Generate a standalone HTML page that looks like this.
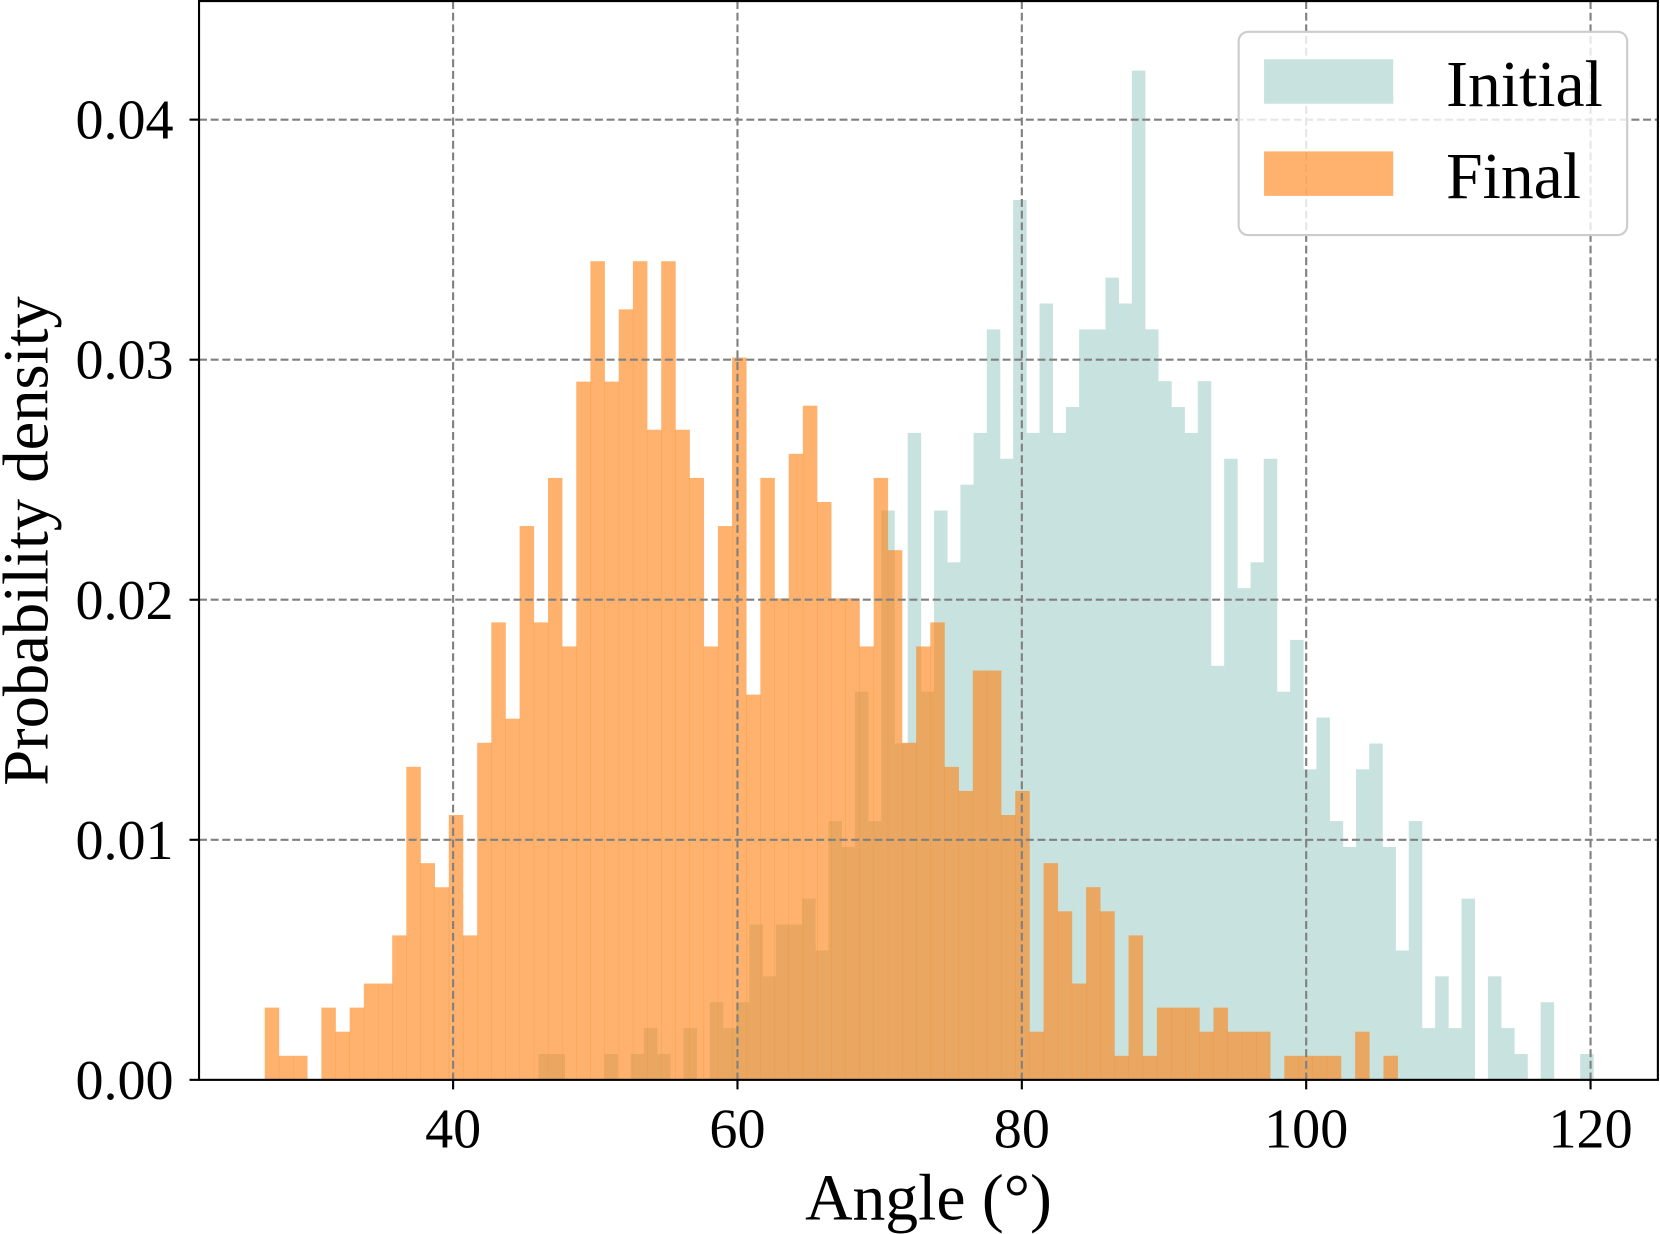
<!DOCTYPE html>
<html><head><meta charset="utf-8"><style>
html,body{margin:0;padding:0;background:#fff;}
svg{display:block;font-family:"Liberation Serif","DejaVu Serif",serif;}
</style></head><body>
<svg width="1660" height="1234" viewBox="0 0 1568 1165.6" xmlns="http://www.w3.org/2000/svg">
<g id="bars-initial"></g>
<g id="bars-final"></g>
<g id="grid"></g>
<g id="axes"></g>
<g>
  <rect x="1170" y="30" width="367" height="192" rx="9" fill="#fff" fill-opacity="0.8" stroke="#cccccc" stroke-width="2"/>
  <rect x="1194" y="56" width="122" height="42" fill="rgb(200,227,223)"/>
  <text x="1366" y="100" font-size="62">Initial</text>
  <rect x="1194" y="143" width="122" height="42" fill="rgb(253,131,21)" fill-opacity="0.62"/>
  <text x="1366" y="187" font-size="62">Final</text>
</g>
<text x="877" y="1152" font-size="62" text-anchor="middle">Angle (°)</text>
<text transform="translate(45,511) rotate(-90)" font-size="61" text-anchor="middle">Probability density</text>
</svg>
<script>
const finalCounts = [3,1,1,0,3,2,3,4,4,6,13,9,8,11,6,14,19,15,23,19,25,18,29,34,29,32,34,27,34,27,25,18,23,30,16,25,20,26,28,24,20,20,18,25,22,14,18,19,13,12,17,17,11,12,2,9,7,4,8,7,1,6,1,3,3,3,2,3,2,2,2,0,1,1,1,1,0,2,0,1];
const initialCounts = [1,1,0,0,0,1,0,1,2,1,0,2,0,3,2,3,6,4,6,6,7,5,10,9,15,10,22,13,25,15,22,20,23,25,29,24,34,25,30,25,26,29,29,31,30,39,29,27,26,25,27,16,24,19,20,24,15,17,12,14,10,9,12,13,9,5,10,2,4,2,7,0,4,2,1,0,3,0,0,1];
const finalStart = 26.75, finalBinWidth = 0.996, finalDensityPerCount = 0.001003;
const initialStart = 46.0, initialBinWidth = 0.9275, initialDensityPerCount = 0.001078;
const xTicks = [40,60,80,100,120];
const yTicks = [0,0.01,0.02,0.03,0.04];
const yTickLabels = ["0.00","0.01","0.02","0.03","0.04"];

const NS = "http://www.w3.org/2000/svg";
const L = 188, R = 1566, T = 1, B = 1020;
function xs(a){ return 428 + (a - 40) * 13.43; }
function ys(d){ return B - d * 22675; }
function mk(tag, attrs, parent){ const e = document.createElementNS(NS, tag); for (const k in attrs) e.setAttribute(k, attrs[k]); parent.appendChild(e); return e; }

function drawBars(counts, start, w, unit, gid, fill, op, nm){
  const g = document.getElementById(gid);
  counts.forEach((c, i) => {
    if (c <= 0) return;
    const x0 = xs(start + i * w), x1 = xs(start + (i + 1) * w);
    const y = ys(c * unit);
    const r = mk('rect', {x: x0, y: y, width: x1 - x0 + 0.3, height: B - y, fill: fill, 'fill-opacity': op}, g);
    
    
  });
}
drawBars(initialCounts, initialStart, initialBinWidth, initialDensityPerCount, 'bars-initial', 'rgb(200,227,223)', 1, 'initial-bar');
drawBars(finalCounts, finalStart, finalBinWidth, finalDensityPerCount, 'bars-final', 'rgb(253,131,21)', 0.62, 'final-bar');

const grid = document.getElementById('grid');
const axes = document.getElementById('axes');
xTicks.forEach(t => {
  const x = xs(t);
  const gl = mk('line', {x1: x, x2: x, y1: T, y2: B, stroke: '#808080', 'stroke-width': 2, 'stroke-dasharray': '7.5,3.5'}, grid);
  
  
  const tk = mk('line', {x1: x, x2: x, y1: B, y2: B + 9, stroke: '#000', 'stroke-width': 2}, axes);
  
  
  const tx = mk('text', {x: x, y: 1084, 'font-size': 53, 'text-anchor': 'middle'}, axes);
  tx.textContent = String(t);
  
  
});
yTicks.forEach((t, i) => {
  const y = ys(t);
  if (t > 0) {
    const gl = mk('line', {x1: L, x2: R, y1: y, y2: y, stroke: '#808080', 'stroke-width': 2, 'stroke-dasharray': '7.5,3.5'}, grid);
    
    
  }
  const tk = mk('line', {x1: L - 9, x2: L, y1: y, y2: y, stroke: '#000', 'stroke-width': 2}, axes);
  
  
  const tx = mk('text', {x: 164, y: y + 18, 'font-size': 53, 'text-anchor': 'end'}, axes);
  tx.textContent = yTickLabels[i];
  
  
});
const frame = mk('rect', {x: L, y: T, width: R - L, height: B - T, fill: 'none', stroke: '#000', 'stroke-width': 2}, axes);


</script>
</body></html>
